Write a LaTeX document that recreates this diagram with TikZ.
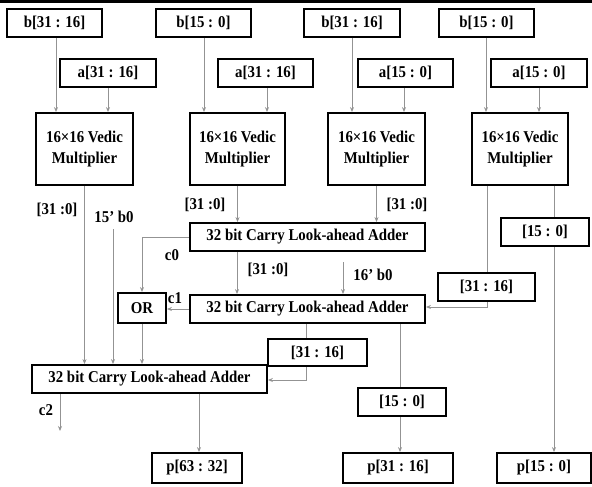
\documentclass[tikz,border=0pt]{standalone}
\usepackage{fontspec}
\setmainfont{Liberation Serif}
\usetikzlibrary{arrows.meta}
\newcommand{\sqz}[1]{\scalebox{0.9}[1]{#1}}
\tikzset{
  box/.style={draw=black, line width=1.8pt, fill=white, inner sep=0pt, minimum height=28pt,
    font=\bfseries\fontsize{16.5}{21}\selectfont, align=center},
  wire/.style={draw=gray!85, line width=0.8pt},
  arr/.style={wire, -{Stealth[length=5pt,width=4pt]}},
  lbl/.style={font=\bfseries\fontsize{16.5}{18}\selectfont, inner sep=0pt},
}
\begin{document}
\begin{tikzpicture}[x=1pt,y=-1pt]
\useasboundingbox (0,0) rectangle (592,487);
\fill[black] (0,0) rectangle (592,3);
% inputs
\node[box, minimum width=95pt] (b1) at (54.5,23) {\sqz{b[31 : 16]}};
\node[box, minimum width=95pt] (b2) at (203.5,23) {\sqz{b[15 : 0]}};
\node[box, minimum width=96pt] (b3) at (352,23) {\sqz{b[31 : 16]}};
\node[box, minimum width=95pt] (b4) at (486.5,23) {\sqz{b[15 : 0]}};
\node[box, minimum width=96pt] (a1) at (108,73) {\sqz{a[31 : 16]}};
\node[box, minimum width=95pt] (a2) at (265.5,73) {\sqz{a[31 : 16]}};
\node[box, minimum width=95pt] (a3) at (405.5,73) {\sqz{a[15 : 0]}};
\node[box, minimum width=96pt] (a4) at (539,73) {\sqz{a[15 : 0]}};
% multipliers
\node[box, minimum width=97pt, minimum height=72pt] (m1) at (84.5,149) {\sqz{16×16 Vedic}\\\sqz{Multiplier}};
\node[box, minimum width=95pt, minimum height=72pt] (m2) at (237.5,149) {\sqz{16×16 Vedic}\\\sqz{Multiplier}};
\node[box, minimum width=97pt, minimum height=72pt] (m3) at (376.5,149) {\sqz{16×16 Vedic}\\\sqz{Multiplier}};
\node[box, minimum width=96pt, minimum height=72pt] (m4) at (520,149) {\sqz{16×16 Vedic}\\\sqz{Multiplier}};
% input arrows
\draw[arr] (b1.south -| 56,0) -- (m1.north -| 56,0);
\draw[arr] (a1.south) -- (m1.north -| a1.south);
\draw[arr] (b2.south -| 204,0) -- (m2.north -| 204,0);
\draw[arr] (a2.south -| 267,0) -- (m2.north -| 267,0);
\draw[arr] (b3.south) -- (m3.north -| b3.south);
\draw[arr] (a3.south -| 404,0) -- (m3.north -| 404,0);
\draw[arr] (b4.south -| 486,0) -- (m4.north -| 486,0);
\draw[arr] (a4.south) -- (m4.north -| a4.south);
% adders
\node[box, minimum width=235pt] (cla1) at (307.5,237) {\sqz{32 bit Carry Look-ahead Adder}};
\node[box, minimum width=235pt] (cla2) at (307.5,309) {\sqz{32 bit Carry Look-ahead Adder}};
\node[box, minimum width=235pt] (cla3) at (149.5,379) {\sqz{32 bit Carry Look-ahead Adder}};
\node[box, minimum width=48pt, minimum height=30pt] (or) at (142,308) {\sqz{OR}};
% outputs
\node[box, minimum width=90pt, minimum height=30pt] (p1) at (197,468) {\sqz{p[63 : 32]}};
\node[box, minimum width=110pt, minimum height=30pt] (p2) at (398,468) {\sqz{p[31 : 16]}};
\node[box, minimum width=94pt, minimum height=30pt] (p3) at (544,468) {\sqz{p[15 : 0]}};
% wires
\draw[arr] (m1.south) -- (cla3.north -| m1.south);
\coordinate (z15) at (113,229);
\draw[arr] (z15) -- (cla3.north -| z15);
\draw[arr] (m2.south) -- (cla1.north -| m2.south);
\draw[arr] (m3.south) -- (cla1.north -| m3.south);
\draw[arr] (cla1.south -| 237,0) -- (cla2.north -| 237,0);
\coordinate (z16) at (343,262);
\draw[arr] (z16) -- (cla2.north -| z16);
\draw[arr] (cla1.west) -- (142,237) -- (or.north);
\draw[arr] (cla2.west) -- (or.east |- cla2.west);
\draw[arr] (or.south) -- (cla3.north -| or.south);
\draw[arr] (m4.south -| 487,0) -- (487,307) -- (cla2.east |- 0,307);
\draw[arr] (m4.south -| 554,0) -- (p3.north -| 554,0);
\draw[arr] (cla2.south -| 306,0) -- (306,380) -- (cla3.east |- 0,380);
\draw[arr] (cla2.south -| 400,0) -- (p2.north -| 400,0);
\draw[arr] (cla3.south -| 199,0) -- (p1.north -| 199,0);
\coordinate (c2end) at (60,431);
\draw[arr] (cla3.south -| c2end) -- (c2end);
% boxes on wires
\node[box, minimum width=97pt] (r1) at (486.5,287) {\sqz{[31 : 16]}};
\node[box, minimum width=88pt] (r2) at (545,232) {\sqz{[15 : 0]}};
\node[box, minimum width=99pt, minimum height=27pt] (r3) at (317.5,352.5) {\sqz{[31 : 16]}};
\node[box, minimum width=88pt] (r4) at (402,402) {\sqz{[15 : 0]}};
% labels
\node[lbl] (l1) at (57,210) {\sqz{[31 :0]}};
\node[lbl] (l2) at (114,217) {\sqz{15’ b0}};
\node[lbl] (l3) at (205,205) {\sqz{[31 :0]}};
\node[lbl] (l4) at (407,205) {\sqz{[31 :0]}};
\node[lbl] (l5) at (172,255) {\sqz{c0}};
\node[lbl] (l6) at (268,270) {\sqz{[31 :0]}};
\node[lbl] (l7) at (373,275) {\sqz{16’ b0}};
\node[lbl] (l8) at (175,298) {\sqz{c1}};
\node[lbl] (l9) at (46,410) {\sqz{c2}};
\end{tikzpicture}
\end{document}
